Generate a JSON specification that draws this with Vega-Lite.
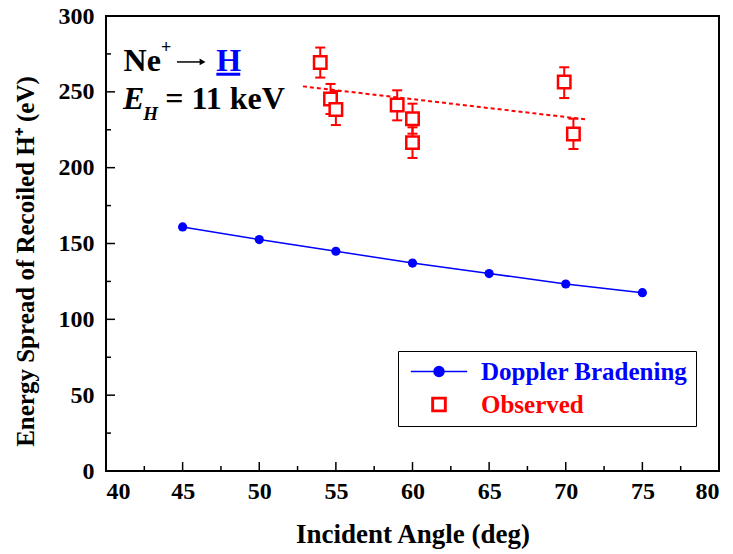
{
  "$schema": "https://vega.github.io/schema/vega-lite/v6.json",
  "width": 613,
  "height": 455,
  "autosize": {"type": "none"},
  "padding": {"left": 106, "top": 16, "right": 14, "bottom": 83},
  "config": {
    "font": "Liberation Serif",
    "view": {"stroke": "black", "strokeWidth": 2},
    "axis": {
      "labelFont": "Liberation Serif", "labelFontSize": 24, "labelFontWeight": "bold", "labelColor": "#000000",
      "titleFont": "Liberation Serif", "titleFontWeight": "bold", "titleColor": "#000000",
      "domain": false, "ticks": false, "grid": false, "labelOverlap": false
    }
  },
  "datasets": {
    "doppler": [
      {"angle": 45, "spread": 160.9, "series": "Doppler Bradening"},
      {"angle": 50, "spread": 152.6, "series": "Doppler Bradening"},
      {"angle": 55, "spread": 144.9, "series": "Doppler Bradening"},
      {"angle": 60, "spread": 137.1, "series": "Doppler Bradening"},
      {"angle": 65, "spread": 130.2, "series": "Doppler Bradening"},
      {"angle": 70, "spread": 123.3, "series": "Doppler Bradening"},
      {"angle": 75, "spread": 117.6, "series": "Doppler Bradening"}
    ],
    "observed": [
      {"angle": 53.98, "spread": 269.3, "lo": 259.4, "hi": 279.2, "series": "Observed"},
      {"angle": 54.65, "spread": 245.3, "lo": 235.4, "hi": 255.2, "series": "Observed"},
      {"angle": 55.0, "spread": 238.3, "lo": 228.1, "hi": 250.5, "series": "Observed"},
      {"angle": 59.0, "spread": 241.3, "lo": 231.2, "hi": 251.0, "series": "Observed"},
      {"angle": 60.0, "spread": 232.3, "lo": 222.4, "hi": 242.2, "series": "Observed"},
      {"angle": 60.0, "spread": 216.5, "lo": 206.4, "hi": 226.6, "series": "Observed"},
      {"angle": 69.9, "spread": 256.5, "lo": 245.9, "hi": 266.2, "series": "Observed"},
      {"angle": 70.5, "spread": 222.2, "lo": 212.3, "hi": 232.3, "series": "Observed"}
    ],
    "fit": [
      {"angle": 52.85, "spread": 253.6},
      {"angle": 71.27, "spread": 231.9}
    ],
    "xmajor": [{"v": 45}, {"v": 50}, {"v": 55}, {"v": 60}, {"v": 65}, {"v": 70}, {"v": 75}],
    "xminor": [{"v": 42.5}, {"v": 47.5}, {"v": 52.5}, {"v": 57.5}, {"v": 62.5}, {"v": 67.5}, {"v": 72.5}, {"v": 77.5}],
    "ymajor": [{"v": 50}, {"v": 100}, {"v": 150}, {"v": 200}, {"v": 250}],
    "yminor": [{"v": 25}, {"v": 75}, {"v": 125}, {"v": 175}, {"v": 225}, {"v": 275}],
    "notes": [
      {"kind": "big", "angle": 41.15, "spread": 263.7, "text": "Ne"},
      {"kind": "big", "angle": 43.87, "spread": 238.9, "text": "= 11 keV"},
      {"kind": "sup", "angle": 43.59, "spread": 275.4, "text": "+"},
      {"kind": "blue", "angle": 47.2, "spread": 263.7, "text": "H"},
      {"kind": "ital", "angle": 41.11, "spread": 238.9, "text": "E"},
      {"kind": "sub", "angle": 42.43, "spread": 231.7, "text": "H"}
    ],
    "arrow": [
      {"angle": 44.63, "angle2": 46.15, "spread": 269.7}
    ],
    "arrowhead": [
      {"angle": 46.3, "spread": 269.7}
    ],
    "underline": [
      {"angle": 47.2, "angle2": 48.76, "spread": 261.6}
    ]
  },
  "layer": [
    {
      "data": {"name": "doppler"},
      "mark": {"type": "line", "strokeWidth": 1.5},
      "encoding": {
        "x": {
          "field": "angle", "type": "quantitative",
          "scale": {"domain": [40, 80], "nice": false, "zero": false},
          "axis": {
            "title": "Incident Angle (deg)",
            "titleFontSize": 27,
            "values": [40, 45, 50, 55, 60, 65, 70, 75, 80],
            "labelPadding": 8,
            "titlePadding": 18
          }
        },
        "y": {
          "field": "spread", "type": "quantitative",
          "scale": {"domain": [0, 300], "nice": false, "zero": true},
          "axis": {
            "title": "Energy Spread of Recoiled H⁺ (eV)",
            "titleFontSize": 25,
            "titleY": 245,
            "values": [0, 50, 100, 150, 200, 250, 300],
            "labelPadding": 12,
            "titlePadding": 20
          }
        },
        "color": {
          "field": "series", "type": "nominal",
          "scale": {"domain": ["Doppler Bradening", "Observed"], "range": ["blue", "red"]},
          "legend": {
            "title": null,
            "orient": "none",
            "legendX": 292,
            "legendY": 335,
            "padding": 8,
            "strokeColor": "black",
            "fillColor": "white",
            "labelFont": "Liberation Serif",
            "labelFontSize": 25,
            "labelFontWeight": "bold",
            "labelLimit": 500,
            "symbolSize": 3170,
            "symbolStrokeWidth": 1.5,
            "symbolOffset": 4,
            "clipHeight": 25,
            "rowPadding": 7,
            "labelOffset": 13,
            "encode": {
              "symbols": {
                "update": {
                  "shape": {"signal": "datum.value === 'Observed' ? 'M-0.25,-0.25H0.25V0.25H-0.25Z M-0.2,-0.2V0.2H0.2V-0.2Z' : 'M-1,0H-0.178M0.178,0H1M-0.178,0A0.178,0.178 0 1,1 0.178,0A0.178,0.178 0 1,1 -0.178,0Z'"},
                  "size": {"value": 3170},
                  "strokeWidth": {"value": 1.5},
                  "opacity": {"value": 1}
                }
              },
              "labels": {
                "update": {
                  "fill": {"signal": "datum.value === 'Observed' ? 'red' : 'blue'"}
                }
              }
            }
          }
        }
      }
    },
    {
      "data": {"name": "xmajor"},
      "mark": {"type": "tick", "orient": "vertical", "color": "black", "size": 9, "thickness": 1.5, "yOffset": -4.5, "opacity": 1},
      "encoding": {
        "x": {"field": "v", "type": "quantitative"},
        "y": {"datum": 0, "type": "quantitative"}
      }
    },
    {
      "data": {"name": "xminor"},
      "mark": {"type": "tick", "orient": "vertical", "color": "black", "size": 5, "thickness": 1.5, "yOffset": -2.5, "opacity": 1},
      "encoding": {
        "x": {"field": "v", "type": "quantitative"},
        "y": {"datum": 0, "type": "quantitative"}
      }
    },
    {
      "data": {"name": "ymajor"},
      "mark": {"type": "tick", "orient": "horizontal", "color": "black", "size": 9, "thickness": 1.5, "xOffset": 4.5, "opacity": 1},
      "encoding": {
        "x": {"datum": 40, "type": "quantitative"},
        "y": {"field": "v", "type": "quantitative"}
      }
    },
    {
      "data": {"name": "yminor"},
      "mark": {"type": "tick", "orient": "horizontal", "color": "black", "size": 5, "thickness": 1.5, "xOffset": 2.5, "opacity": 1},
      "encoding": {
        "x": {"datum": 40, "type": "quantitative"},
        "y": {"field": "v", "type": "quantitative"}
      }
    },
    {
      "data": {"name": "doppler"},
      "mark": {"type": "point", "shape": "circle", "filled": true, "size": 85, "opacity": 1},
      "encoding": {
        "x": {"field": "angle", "type": "quantitative"},
        "y": {"field": "spread", "type": "quantitative"},
        "color": {"field": "series", "type": "nominal"}
      }
    },
    {
      "data": {"name": "fit"},
      "mark": {"type": "line", "color": "red", "strokeWidth": 2, "strokeDash": [4, 3]},
      "encoding": {
        "x": {"field": "angle", "type": "quantitative"},
        "y": {"field": "spread", "type": "quantitative"}
      }
    },
    {
      "data": {"name": "observed"},
      "mark": {"type": "rule", "color": "red", "strokeWidth": 2},
      "encoding": {
        "x": {"field": "angle", "type": "quantitative"},
        "y": {"field": "lo", "type": "quantitative"},
        "y2": {"field": "hi"}
      }
    },
    {
      "data": {"name": "observed"},
      "mark": {"type": "tick", "orient": "horizontal", "color": "red", "size": 10, "thickness": 2, "opacity": 1},
      "encoding": {
        "x": {"field": "angle", "type": "quantitative"},
        "y": {"field": "lo", "type": "quantitative"}
      }
    },
    {
      "data": {"name": "observed"},
      "mark": {"type": "tick", "orient": "horizontal", "color": "red", "size": 10, "thickness": 2, "opacity": 1},
      "encoding": {
        "x": {"field": "angle", "type": "quantitative"},
        "y": {"field": "hi", "type": "quantitative"}
      }
    },
    {
      "data": {"name": "observed"},
      "mark": {"type": "point", "shape": "square", "filled": false, "fill": "white", "fillOpacity": 1, "size": 155, "strokeWidth": 2.5, "opacity": 1},
      "encoding": {
        "x": {"field": "angle", "type": "quantitative"},
        "y": {"field": "spread", "type": "quantitative"},
        "color": {"field": "series", "type": "nominal"}
      }
    },
    {
      "data": {"name": "arrow"},
      "mark": {"type": "rule", "color": "black", "strokeWidth": 1.5},
      "encoding": {
        "x": {"field": "angle", "type": "quantitative"},
        "x2": {"field": "angle2"},
        "y": {"field": "spread", "type": "quantitative"}
      }
    },
    {
      "data": {"name": "arrowhead"},
      "mark": {"type": "point", "shape": "triangle-right", "filled": true, "color": "black", "size": 45, "opacity": 1},
      "encoding": {
        "x": {"field": "angle", "type": "quantitative"},
        "y": {"field": "spread", "type": "quantitative"}
      }
    },
    {
      "data": {"name": "underline"},
      "mark": {"type": "rule", "color": "blue", "strokeWidth": 3},
      "encoding": {
        "x": {"field": "angle", "type": "quantitative"},
        "x2": {"field": "angle2"},
        "y": {"field": "spread", "type": "quantitative"}
      }
    },
    {
      "data": {"name": "notes"},
      "transform": [{"filter": "datum.kind === 'big'"}],
      "mark": {"type": "text", "align": "left", "baseline": "alphabetic", "font": "Liberation Serif", "fontSize": 32, "fontWeight": "bold", "color": "black"},
      "encoding": {
        "x": {"field": "angle", "type": "quantitative"},
        "y": {"field": "spread", "type": "quantitative"},
        "text": {"field": "text"}
      }
    },
    {
      "data": {"name": "notes"},
      "transform": [{"filter": "datum.kind === 'sup'"}],
      "mark": {"type": "text", "align": "left", "baseline": "alphabetic", "font": "Liberation Serif", "fontSize": 18, "fontWeight": "bold", "color": "black"},
      "encoding": {
        "x": {"field": "angle", "type": "quantitative"},
        "y": {"field": "spread", "type": "quantitative"},
        "text": {"field": "text"}
      }
    },
    {
      "data": {"name": "notes"},
      "transform": [{"filter": "datum.kind === 'blue'"}],
      "mark": {"type": "text", "align": "left", "baseline": "alphabetic", "font": "Liberation Serif", "fontSize": 32, "fontWeight": "bold", "color": "blue"},
      "encoding": {
        "x": {"field": "angle", "type": "quantitative"},
        "y": {"field": "spread", "type": "quantitative"},
        "text": {"field": "text"}
      }
    },
    {
      "data": {"name": "notes"},
      "transform": [{"filter": "datum.kind === 'ital'"}],
      "mark": {"type": "text", "align": "left", "baseline": "alphabetic", "font": "Liberation Serif", "fontSize": 32, "fontWeight": "bold", "fontStyle": "italic", "color": "black"},
      "encoding": {
        "x": {"field": "angle", "type": "quantitative"},
        "y": {"field": "spread", "type": "quantitative"},
        "text": {"field": "text"}
      }
    },
    {
      "data": {"name": "notes"},
      "transform": [{"filter": "datum.kind === 'sub'"}],
      "mark": {"type": "text", "align": "left", "baseline": "alphabetic", "font": "Liberation Serif", "fontSize": 19, "fontWeight": "bold", "fontStyle": "italic", "color": "black"},
      "encoding": {
        "x": {"field": "angle", "type": "quantitative"},
        "y": {"field": "spread", "type": "quantitative"},
        "text": {"field": "text"}
      }
    }
  ]
}
